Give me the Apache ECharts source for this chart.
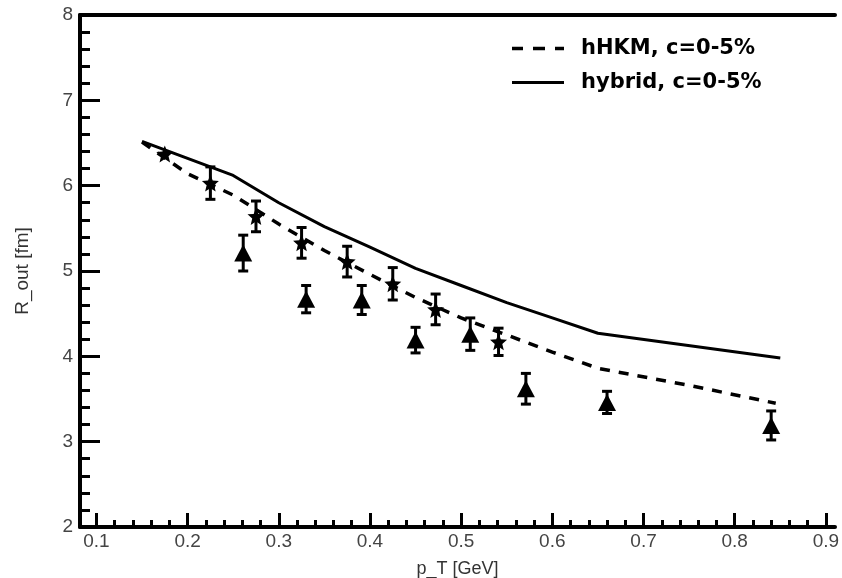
<!DOCTYPE html>
<html>
<head>
<meta charset="utf-8">
<script src="https://cdn.jsdelivr.net/npm/echarts@6/dist/echarts.min.js"></script>
<style>
html,body{margin:0;padding:0;background:#fff;}
#chart{width:842px;height:578px;}
</style>
</head>
<body>
<div id="chart"></div>
<script>
// ---- Data ----
const hhkmX = [0.15, 0.20, 0.25, 0.30, 0.35, 0.40, 0.45, 0.50, 0.55, 0.60, 0.65, 0.75, 0.845];
const hhkmY = [6.51, 6.14, 5.89, 5.55, 5.24, 4.96, 4.69, 4.45, 4.25, 4.05, 3.86, 3.66, 3.45];

const hybridX = [0.15, 0.25, 0.30, 0.35, 0.40, 0.45, 0.50, 0.55, 0.60, 0.65, 0.85];
const hybridY = [6.52, 6.12, 5.80, 5.52, 5.28, 5.03, 4.83, 4.63, 4.45, 4.27, 3.98];

const starX = [0.175, 0.225, 0.275, 0.325, 0.375, 0.425, 0.472, 0.541];
const starY = [6.37, 6.03, 5.64, 5.33, 5.11, 4.85, 4.55, 4.17];
const starErr = [0.0, 0.19, 0.18, 0.18, 0.18, 0.19, 0.18, 0.16];

const triX = [0.261, 0.330, 0.391, 0.450, 0.510, 0.571, 0.660, 0.840];
const triY = [5.21, 4.67, 4.66, 4.19, 4.26, 3.62, 3.46, 3.19];
const triErr = [0.21, 0.16, 0.17, 0.15, 0.19, 0.18, 0.13, 0.17];

const xMajorTicks = [0.1, 0.2, 0.3, 0.4, 0.5, 0.6, 0.7, 0.8, 0.9];
const xMinorTicks = [0.12, 0.14, 0.16, 0.18, 0.22, 0.24, 0.26, 0.28, 0.32, 0.34, 0.36, 0.38,
  0.42, 0.44, 0.46, 0.48, 0.52, 0.54, 0.56, 0.58, 0.62, 0.64, 0.66, 0.68,
  0.72, 0.74, 0.76, 0.78, 0.82, 0.84, 0.86, 0.88];

const seriesNames = ['hHKM, c=0-5%', 'hybrid, c=0-5%'];
const xName = 'p_T [GeV]';
const yName = 'R_out [fm]';

// ---- Build ----
const zip = (a, b) => a.map((v, i) => [v, b[i]]);
const zip3 = (a, b, c) => a.map((v, i) => [v, b[i], c[i]]);

const starPath = 'path://M0,-10 L2.6,-3.6 9.5,-3.1 4.2,1.4 5.9,8.1 0,4.4 -5.9,8.1 -4.2,1.4 -9.5,-3.1 -2.6,-3.6 Z';
const dashIcon = 'path://M0,0h11v3.5h-11z M21,0h12v3.5h-12z M43,0h9v3.5h-9z';
const solidIcon = 'path://M0,0h52v3.2h-52z';

function errRender(params, api) {
  const x = api.value(0), y = api.value(1), e = api.value(2);
  if (!e) return null;
  const top = api.coord([x, y + e]);
  const bot = api.coord([x, y - e]);
  const cw = 5;
  const st = { stroke: '#000', lineWidth: 3 };
  return {
    type: 'group',
    children: [
      { type: 'line', shape: { x1: top[0], y1: top[1], x2: bot[0], y2: bot[1] }, style: st },
      { type: 'line', shape: { x1: top[0] - cw, y1: top[1], x2: top[0] + cw, y2: top[1] }, style: st },
      { type: 'line', shape: { x1: bot[0] - cw, y1: bot[1], x2: bot[0] + cw, y2: bot[1] }, style: st }
    ]
  };
}

const fontTick = '"Liberation Sans", Arial, sans-serif';
const xMin = 0.082, xMax = 0.91;

const option = {
  animation: false,
  backgroundColor: '#fff',
  grid: { left: 80, right: 7, top: 15, bottom: 51, containLabel: false, outerBoundsMode: 'none' },
  legend: {
    orient: 'vertical',
    left: 507,
    top: 33,
    itemWidth: 52,
    itemHeight: 14,
    itemGap: 13,
    data: [
      { name: seriesNames[0], icon: dashIcon },
      { name: seriesNames[1], icon: solidIcon }
    ],
    itemStyle: { color: '#000' },
    textStyle: {
      fontFamily: '"DejaVu Sans", sans-serif',
      fontWeight: 'bold',
      fontSize: 21,
      color: '#000',
      padding: [0, 0, 0, 12]
    }
  },
  xAxis: [
    {
      type: 'value', min: xMin, max: xMax, position: 'bottom',
      name: xName, nameLocation: 'middle', nameGap: 33,
      nameTextStyle: { fontFamily: fontTick, fontSize: 18, color: '#333' },
      axisLine: { show: true, onZero: false, lineStyle: { color: '#000', width: 4 } },
      axisTick: { show: true, inside: true, length: 14, customValues: xMajorTicks, lineStyle: { color: '#000', width: 3 } },
      axisLabel: { show: true, customValues: xMajorTicks, margin: 5, fontFamily: fontTick, fontSize: 19, color: '#444',
        formatter: v => (+v).toFixed(1) },
      splitLine: { show: false }
    },
    {
      type: 'value', min: xMin, max: xMax, position: 'bottom',
      axisLine: { show: false, onZero: false },
      axisTick: { show: true, inside: true, length: 7, customValues: xMinorTicks, lineStyle: { color: '#000', width: 3 } },
      axisLabel: { show: false },
      splitLine: { show: false }
    },
    {
      type: 'value', min: xMin, max: xMax, position: 'top',
      axisLine: { show: true, onZero: false, lineStyle: { color: '#000', width: 4 } },
      axisTick: { show: false },
      axisLabel: { show: false },
      splitLine: { show: false }
    }
  ],
  yAxis: {
    type: 'value', min: 2, max: 8, interval: 1,
    name: yName, nameLocation: 'middle', nameGap: 48,
    nameTextStyle: { fontFamily: fontTick, fontSize: 19, color: '#333' },
    axisLine: { show: true, onZero: false, lineStyle: { color: '#000', width: 4 } },
    axisTick: { show: true, inside: true, length: 20, lineStyle: { color: '#000', width: 3 } },
    minorTick: { show: true, splitNumber: 5, length: 10, lineStyle: { color: '#000', width: 3 } },
    axisLabel: { margin: 7, fontFamily: fontTick, fontSize: 19, color: '#444' },
    splitLine: { show: false },
    minorSplitLine: { show: false }
  },
  series: [
    {
      name: seriesNames[0], type: 'line', xAxisIndex: 0, data: zip(hhkmX, hhkmY),
      symbol: 'none', smooth: false, z: 2,
      lineStyle: { color: '#000', width: 3.5, type: [10, 9], cap: 'butt' },
      itemStyle: { color: '#000' }
    },
    {
      name: seriesNames[1], type: 'line', xAxisIndex: 0, data: zip(hybridX, hybridY),
      symbol: 'none', smooth: false, z: 2,
      lineStyle: { color: '#000', width: 3, type: 'solid' },
      itemStyle: { color: '#000' }
    },
    {
      name: 'starErr', type: 'custom', xAxisIndex: 0, renderItem: errRender,
      data: zip3(starX, starY, starErr), z: 3
    },
    {
      name: 'triErr', type: 'custom', xAxisIndex: 0, renderItem: errRender,
      data: zip3(triX, triY, triErr), z: 3
    },
    {
      name: 'stars', type: 'scatter', xAxisIndex: 0, data: zip(starX, starY),
      symbol: starPath, symbolSize: 17, itemStyle: { color: '#000', opacity: 1 }, z: 4
    },
    {
      name: 'triangles', type: 'scatter', xAxisIndex: 0, data: zip(triX, triY),
      symbol: 'triangle', symbolSize: [18, 17], itemStyle: { color: '#000', opacity: 1 }, z: 4
    }
  ]
};

const chart = echarts.init(document.getElementById('chart'), null, { renderer: 'canvas' });
chart.setOption(option);
</script>
</body>
</html>
